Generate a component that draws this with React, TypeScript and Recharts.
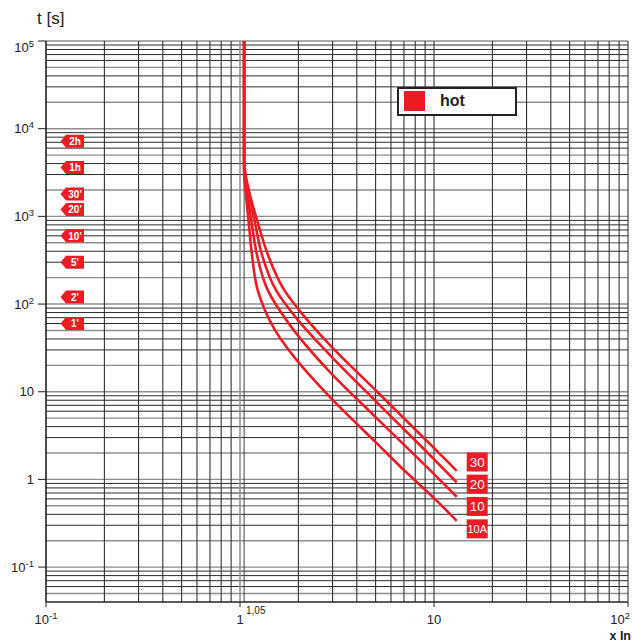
import React from 'react'
import {
  LineChart,
  Line,
  XAxis,
  YAxis,
  ReferenceLine,
  ReferenceDot,
  Legend,
} from 'recharts'

const RED = '#ed1c24'
const FONT = '"Liberation Sans", Arial, Helvetica, sans-serif'

// tripping curves: x = I/In, t in seconds
const X_30 = [1.05, 1.05, 1.126, 1.238, 1.394, 1.692, 2.138, 2.91, 5.0, 10, 13.1]
const T_30 = [100000, 4400, 1750, 838, 362, 144, 72.9, 34.0, 10.4, 2.28, 1.25]

const X_20 = [1.05, 1.05, 1.113, 1.195, 1.299, 1.533, 1.99, 2.91, 5.0, 10, 13.1]
const T_20 = [100000, 3600, 1750, 838, 362, 144, 65.6, 26.2, 7.82, 1.7, 0.925]

const X_10 = [1.05, 1.05, 1.1, 1.149, 1.224, 1.39, 1.81, 2.91, 5.0, 10, 13.1]
const T_10 = [100000, 3400, 1535, 838, 362, 144, 57.5, 16.7, 5.14, 1.15, 0.634]

const X_10A = [1.05, 1.05, 1.08, 1.113, 1.153, 1.234, 1.515, 2.113, 2.91, 5.0, 6.82, 10, 13.1]
const T_10A = [100000, 3400, 1535, 795, 362, 144, 50.5, 18.8, 8.7, 2.66, 1.35, 0.612, 0.337]

// time marks on the left
const TAG_TEXT = ['2h', '1h', "30'", "20'", "10'", "5'", "2'", "1'"]
const TAG_SECONDS = [7200, 3600, 1800, 1200, 600, 300, 120, 60]
const TAG_X = 0.137

// curve labels at the right end
const CURVE_TEXT = ['30', '20', '10', '10A']
const CURVE_LABEL_T = [1.58, 0.883, 0.492, 0.273]
const CURVE_LABEL_X = 16.7

const X_TICKS = [0.1, 1, 10, 100]
const Y_TICKS = [0.1, 1, 10, 100, 1000, 10000, 100000]
const MANTISSAS = [1, 2, 3, 4, 5, 6, 7, 8, 9]

const X_GRID: number[] = []
for (const d of [0.1, 1, 10]) MANTISSAS.forEach((m) => X_GRID.push(m * d))
X_GRID.push(100)

const Y_GRID: { v: number; m: number }[] = []
for (const d of [0.01, 0.1, 1, 10, 100, 1000, 10000]) {
  MANTISSAS.forEach((m) => {
    const v = m * d
    if (v >= 0.04) Y_GRID.push({ v, m })
  })
}
Y_GRID.push({ v: 100000, m: 1 })

const toPoints = (xs: number[], ts: number[]) => xs.map((x, i) => ({ x, t: ts[i] }))

const curves = [
  { key: '30', data: toPoints(X_30, T_30) },
  { key: '20', data: toPoints(X_20, T_20) },
  { key: '10', data: toPoints(X_10, T_10) },
  { key: '10A', data: toPoints(X_10A, T_10A) },
]

const Y_SUP: Record<string, string> = {
  '0.1': '-1',
  '100': '2',
  '1000': '3',
  '10000': '4',
  '100000': '5',
}

function YTick(props: any) {
  const { x, y, payload } = props
  const v = payload.value
  const sup = Y_SUP[String(v)]
  const base = v === 1 ? '1' : '10'
  return (
    <text x={x} y={y} dy={v === 100000 ? 11 : 4.5} textAnchor="end" fontSize={13} fill="#222" fontFamily={FONT}>
      {base}
      {sup && (
        <tspan dy={-5} fontSize={9.5}>
          {sup}
        </tspan>
      )}
    </text>
  )
}

function XTick(props: any) {
  const { x, y, payload } = props
  const v = payload.value
  if (v === 1) {
    return (
      <g fontFamily={FONT} fill="#222">
        <text x={x} y={y} dy={15} textAnchor="middle" fontSize={13}>
          1
        </text>
        <text x={x + 6} y={y} dy={5} textAnchor="start" fontSize={10}>
          1,05
        </text>
      </g>
    )
  }
  const sup = v === 0.1 ? '-1' : v === 100 ? '2' : null
  return (
    <text
      x={v === 100 ? x + 2 : x}
      y={y}
      dy={15}
      textAnchor={v === 100 ? 'end' : 'middle'}
      fontSize={13}
      fill="#222"
      fontFamily={FONT}
    >
      10
      {sup && (
        <tspan dy={-5} fontSize={9.5}>
          {sup}
        </tspan>
      )}
    </text>
  )
}

function TimeTag(label: string) {
  return (props: any) => {
    const { cx, cy } = props
    const pts = [
      [cx - 12, cy],
      [cx - 6.5, cy - 6.5],
      [cx + 11.5, cy - 6.5],
      [cx + 11.5, cy + 6.5],
      [cx - 6.5, cy + 6.5],
    ]
      .map((p) => p.join(','))
      .join(' ')
    return (
      <g>
        <polygon points={pts} fill={RED} />
        <text x={cx + 2.5} y={cy} dy={3.8} textAnchor="middle" fontSize={10} fontWeight="bold" fill="#fff" fontFamily={FONT}>
          {label}
        </text>
      </g>
    )
  }
}

function CurveTag(label: string) {
  return (props: any) => {
    const { cx, cy } = props
    return (
      <g>
        <rect x={cx - 10.5} y={cy - 9.5} width={21} height={19} fill={RED} />
        <text
          x={cx}
          y={cy}
          dy={label.length > 2 ? 4 : 5}
          textAnchor="middle"
          fontSize={label.length > 2 ? 11 : 13.5}
          fill="#fff"
          fontFamily={FONT}
        >
          {label}
        </text>
      </g>
    )
  }
}

function LegendBox() {
  return (
    <div
      style={{
        boxSizing: 'border-box',
        width: 120,
        height: 29,
        border: '2px solid #222',
        background: '#fff',
        position: 'relative',
        fontFamily: FONT,
      }}
    >
      <div style={{ position: 'absolute', left: 5, top: 2, width: 21, height: 20, background: RED }} />
      <div style={{ position: 'absolute', left: 41, top: 2, fontSize: 16, fontWeight: 'bold', color: '#222', lineHeight: '20px' }}>
        hot
      </div>
    </div>
  )
}

export default function App() {
  return (
    <div style={{ position: 'absolute', left: 0, top: 0, width: 636, height: 641, background: '#fff' }}>
      <LineChart width={636} height={641} margin={{ top: 41, right: 8, bottom: 0, left: 0 }}>
        <XAxis
          dataKey="x"
          type="number"
          scale="log"
          domain={[0.1, 100]}
          allowDataOverflow
          ticks={X_TICKS}
          interval={0}
          height={39}
          tickSize={5}
          tickMargin={2}
          tick={<XTick />}
          axisLine={{ stroke: '#222', strokeWidth: 1.2 }}
          tickLine={{ stroke: '#222' }}
        />
        <YAxis
          dataKey="t"
          type="number"
          scale="log"
          domain={[0.04, 100000]}
          allowDataOverflow
          ticks={Y_TICKS}
          interval={0}
          width={46}
          tickSize={8}
          tickMargin={4}
          tick={<YTick />}
          axisLine={{ stroke: '#222', strokeWidth: 1.2 }}
          tickLine={{ stroke: '#222' }}
        />
        {Y_GRID.map(({ v, m }) => (
          <ReferenceLine
            key={'h' + v}
            y={v}
            stroke={m === 1 || m === 2 || m === 5 ? '#8e8e8e' : '#2b2b2b'}
            strokeWidth={m === 1 || m === 2 || m === 5 ? 1.4 : 1}
          />
        ))}
        {X_GRID.map((v) => (
          <ReferenceLine key={'v' + v} x={v} stroke={v === 1 ? '#8e8e8e' : '#333'} strokeWidth={v === 1 ? 1.5 : 1.1} />
        ))}
        <ReferenceLine x={1.05} stroke="#444" strokeWidth={1} />
        {curves.map((c) => (
          <Line
            key={c.key}
            data={c.data}
            dataKey="t"
            type="monotoneY"
            stroke={RED}
            strokeWidth={2.6}
            dot={false}
            isAnimationActive={false}
          />
        ))}
        {TAG_SECONDS.map((s, i) => (
          <ReferenceDot key={'tag' + s} x={TAG_X} y={s} r={6} shape={TimeTag(TAG_TEXT[i])} />
        ))}
        {CURVE_LABEL_T.map((t, i) => (
          <ReferenceDot key={'cl' + i} x={CURVE_LABEL_X} y={t} r={9} shape={CurveTag(CURVE_TEXT[i])} />
        ))}
        <Legend
          layout="horizontal"
          verticalAlign="middle"
          align="center"
          wrapperStyle={{ left: 397, top: 87, width: 120, height: 29 }}
          content={() => <LegendBox />}
        />
        <text x={37} y={24} fontSize={17} fill="#222" fontFamily={FONT}>
          t [s]
        </text>
        <text x={631} y={639.5} textAnchor="end" fontSize={12.5} fontWeight="bold" fill="#222" fontFamily={FONT}>
          x In
        </text>
      </LineChart>
    </div>
  )
}
